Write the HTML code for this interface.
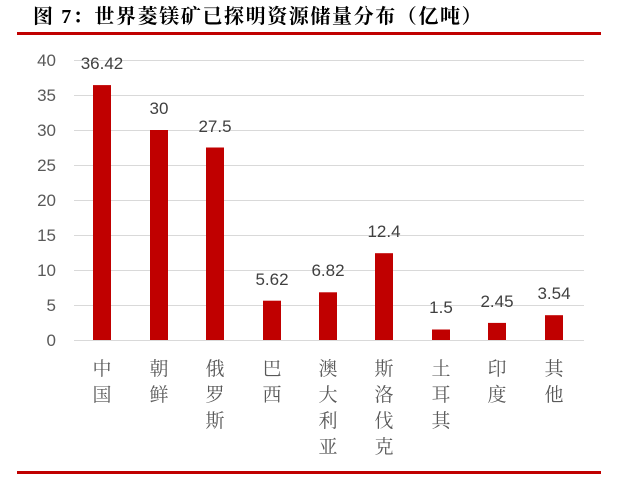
<!DOCTYPE html>
<html><head><meta charset="utf-8"><style>
body{margin:0;background:#fff;width:642px;height:482px;overflow:hidden}
svg{display:block}
</style></head><body>
<svg width="642" height="482" xmlns="http://www.w3.org/2000/svg">
<text x="33" y="23" font-family="'Liberation Serif','Noto Serif CJK SC',serif" font-weight="bold" font-size="20" letter-spacing="1.6" fill="#000">图 7：世界菱镁矿已探明资源储量分布（亿吨）</text>
<rect x="17" y="32" width="584" height="3" fill="#c00000"/>
<rect x="17" y="471" width="584" height="3" fill="#c00000"/>
<g stroke="#d9d9d9" stroke-width="1">
<line x1="74" x2="584" y1="60.5" y2="60.5"/><line x1="74" x2="584" y1="95.5" y2="95.5"/>
<line x1="74" x2="584" y1="130.5" y2="130.5"/><line x1="74" x2="584" y1="165.5" y2="165.5"/>
<line x1="74" x2="584" y1="200.5" y2="200.5"/><line x1="74" x2="584" y1="235.5" y2="235.5"/>
<line x1="74" x2="584" y1="270.5" y2="270.5"/><line x1="74" x2="584" y1="305.5" y2="305.5"/>
<line x1="74" x2="584" y1="340.5" y2="340.5"/>
</g>
<g font-family="'Liberation Sans',sans-serif" font-size="17" fill="#595959" text-anchor="end">
<text x="56" y="66">40</text><text x="56" y="101">35</text><text x="56" y="136">30</text>
<text x="56" y="171">25</text><text x="56" y="206">20</text><text x="56" y="241">15</text>
<text x="56" y="276">10</text><text x="56" y="311">5</text><text x="56" y="346">0</text>
</g>
<g fill="#c00000">
<rect x="93" y="85.1" width="18" height="254.9"/>
<rect x="150" y="130" width="18" height="210"/>
<rect x="206" y="147.5" width="18" height="192.5"/>
<rect x="263" y="300.7" width="18" height="39.3"/>
<rect x="319" y="292.3" width="18" height="47.7"/>
<rect x="375" y="253.2" width="18" height="86.8"/>
<rect x="432" y="329.5" width="18" height="10.5"/>
<rect x="488" y="322.9" width="18" height="17.1"/>
<rect x="545" y="315.2" width="18" height="24.8"/>
</g>
<g font-family="'Liberation Sans',sans-serif" font-size="17" fill="#404040" text-anchor="middle">
<text x="102" y="69">36.42</text><text x="159" y="114">30</text><text x="215" y="132">27.5</text>
<text x="272" y="285">5.62</text><text x="328" y="276">6.82</text><text x="384" y="237">12.4</text>
<text x="441" y="313">1.5</text><text x="497" y="307">2.45</text><text x="554" y="299">3.54</text>
</g>
<g font-family="'Noto Serif CJK SC',serif" font-size="19" fill="#595959" text-anchor="middle">
<text x="102" y="375">中</text><text x="102" y="401">国</text>
<text x="159" y="375">朝</text><text x="159" y="401">鲜</text>
<text x="215" y="375">俄</text><text x="215" y="401">罗</text><text x="215" y="427">斯</text>
<text x="272" y="375">巴</text><text x="272" y="401">西</text>
<text x="328" y="375">澳</text><text x="328" y="401">大</text><text x="328" y="427">利</text><text x="328" y="453">亚</text>
<text x="384" y="375">斯</text><text x="384" y="401">洛</text><text x="384" y="427">伐</text><text x="384" y="453">克</text>
<text x="441" y="375">土</text><text x="441" y="401">耳</text><text x="441" y="427">其</text>
<text x="497" y="375">印</text><text x="497" y="401">度</text>
<text x="554" y="375">其</text><text x="554" y="401">他</text>
</g>
</svg>
</body></html>
